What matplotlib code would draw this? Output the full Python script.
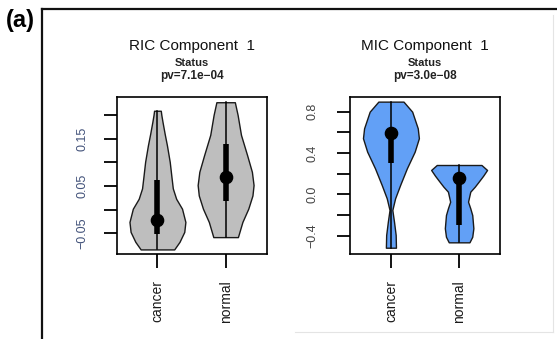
import matplotlib
matplotlib.use("Agg")
import matplotlib.pyplot as plt
from matplotlib.lines import Line2D

# violin outlines: value and relative half-width (max = 1)
RIC_CANCER_Y = [0.209, 0.200, 0.186, 0.160, 0.136, 0.101, 0.070, 0.045, 0.023,
                0.002, -0.026, -0.047, -0.068, -0.084]
RIC_CANCER_W = [0.12, 0.14, 0.18, 0.26, 0.34, 0.44, 0.50, 0.55, 0.67,
                0.88, 1.00, 0.96, 0.79, 0.60]
RIC_NORMAL_Y = [0.227, 0.200, 0.158, 0.115, 0.080, 0.052, 0.030, 0.002,
                -0.026, -0.058]
RIC_NORMAL_W = [0.33, 0.43, 0.55, 0.77, 0.94, 1.00, 0.96, 0.81, 0.60, 0.44]
MIC_CANCER_Y = [0.897, 0.800, 0.639, 0.543, 0.413, 0.252, 0.091, -0.038,
                -0.151, -0.264, -0.393, -0.516]
MIC_CANCER_W = [0.45, 0.76, 0.96, 1.00, 0.85, 0.57, 0.33, 0.15, 0.05, 0.11,
                0.17, 0.18]
MIC_NORMAL_Y = [0.284, 0.236, 0.180, 0.123, 0.074, 0.026, -0.071, -0.135,
                -0.200, -0.328, -0.410, -0.464]
MIC_NORMAL_W = [0.80, 1.00, 0.86, 0.70, 0.56, 0.40, 0.32, 0.40, 0.47, 0.51,
                0.47, 0.37]

# min, q1, median, q3, max
RIC_CANCER_STATS = [-0.084, -0.051, -0.022, 0.062, 0.209]
RIC_NORMAL_STATS = [-0.058, 0.018, 0.069, 0.138, 0.227]
MIC_CANCER_STATS = [-0.516, 0.300, 0.591, 0.630, 0.897]
MIC_NORMAL_STATS = [-0.464, -0.296, 0.161, 0.190, 0.284]

GROUPS = ["cancer", "normal"]
TITLES = ["RIC Component  1", "MIC Component  1"]
PVALUES = ["pv=7.1e\u221204", "pv=3.0e\u221208"]
RIC_TICKS = [-0.05, 0.00, 0.05, 0.10, 0.15, 0.20]
RIC_TICK_LABELS = ["\u22120.05", "", "0.05", "", "0.15", ""]
MIC_TICKS = [-0.4, -0.2, 0.0, 0.2, 0.4, 0.6, 0.8]
MIC_TICK_LABELS = ["\u22120.4", "", "0.0", "", "0.4", "", "0.8"]

HALF_W = 0.41
C_GREY, C_BLUE = "#bebebe", "#62a0f6"
FONT = ["Liberation Sans", "DejaVu Sans"]


def violin(ax, pos, ys, ws, stats, color):
    left = [pos - HALF_W * w for w in ws]
    right = [pos + HALF_W * w for w in ws]
    ax.fill_betweenx(ys, left, right, facecolor=color, edgecolor="#1a1a1a",
                     lw=1.0, zorder=2)
    lo, q1, med, q3, hi = stats
    ax.plot([pos, pos], [lo, hi], color="k", lw=1.1, zorder=3)
    ax.plot([pos, pos], [q1, q3], color="k", lw=4.0, solid_capstyle="butt",
            zorder=4)
    ax.plot([pos], [med], "o", color="k", ms=8.8, zorder=5)


def setup(ax, ylim, ticks, labels, label_color, ypad):
    ax.set_xlim(0.4, 2.6)
    ax.set_ylim(*ylim)
    ax.set_xticks([1, 2])
    ax.set_xticklabels(GROUPS, rotation=90, fontsize=10, family=FONT,
                       color="#1a1a1a")
    ax.set_yticks(ticks)
    ax.set_yticklabels(labels, rotation=90, va="center", fontsize=9,
                       family=FONT, color=label_color)
    ax.tick_params(axis="x", length=10, width=1.3, pad=9)
    ax.tick_params(axis="y", length=9.5, width=1.3, pad=ypad)
    for s in ax.spines.values():
        s.set_linewidth(1.2)


fig = plt.figure(figsize=(5.57, 3.39), dpi=100)
ax1 = fig.add_axes([0.2092, 0.2507, 0.2693, 0.4617])
ax2 = fig.add_axes([0.6284, 0.2507, 0.2693, 0.4617])

violin(ax1, 1, RIC_CANCER_Y, RIC_CANCER_W, RIC_CANCER_STATS, C_GREY)
violin(ax1, 2, RIC_NORMAL_Y, RIC_NORMAL_W, RIC_NORMAL_STATS, C_GREY)
violin(ax2, 1, MIC_CANCER_Y, MIC_CANCER_W, MIC_CANCER_STATS, C_BLUE)
violin(ax2, 2, MIC_NORMAL_Y, MIC_NORMAL_W, MIC_NORMAL_STATS, C_BLUE)

setup(ax1, (-0.0937, 0.237), RIC_TICKS, RIC_TICK_LABELS, "#42527a", 11)
setup(ax2, (-0.577, 0.937), MIC_TICKS, MIC_TICK_LABELS, "#444444", 13)

for ax, title, pv in zip([ax1, ax2], TITLES, PVALUES):
    bb = ax.get_position()
    xc = (bb.x0 + bb.x1) / 2
    fig.text(xc, 0.864, title, ha="center", va="center", fontsize=11,
             family=FONT, color="#111111")
    fig.text(xc, 0.814, "Status", ha="center", va="center", fontsize=8,
             family=FONT, weight="bold", color="#222222")
    fig.text(xc, 0.777, pv, ha="center", va="center", fontsize=8.5,
             family=FONT, weight="bold", color="#222222")

# panel frame and the faint screenshot edges
fig.add_artist(Line2D([0.0754, 0.0754], [0.9735, 0.0], color="#111111",
                      lw=1.6, transform=fig.transFigure))
fig.add_artist(Line2D([0.0754, 1.0], [0.9735, 0.9735], color="#111111",
                      lw=1.6, transform=fig.transFigure))
fig.add_artist(Line2D([0.993, 0.993], [0.955, 0.02], color="#e4e4e4",
                      lw=0.8, transform=fig.transFigure))
fig.add_artist(Line2D([0.53, 0.993], [0.02, 0.02], color="#e4e4e4",
                      lw=0.8, transform=fig.transFigure))

fig.text(0.037, 0.941, "(a)", ha="center", va="center", fontsize=17,
         family=FONT, weight="bold")

fig.savefig("out.png", dpi=100)
